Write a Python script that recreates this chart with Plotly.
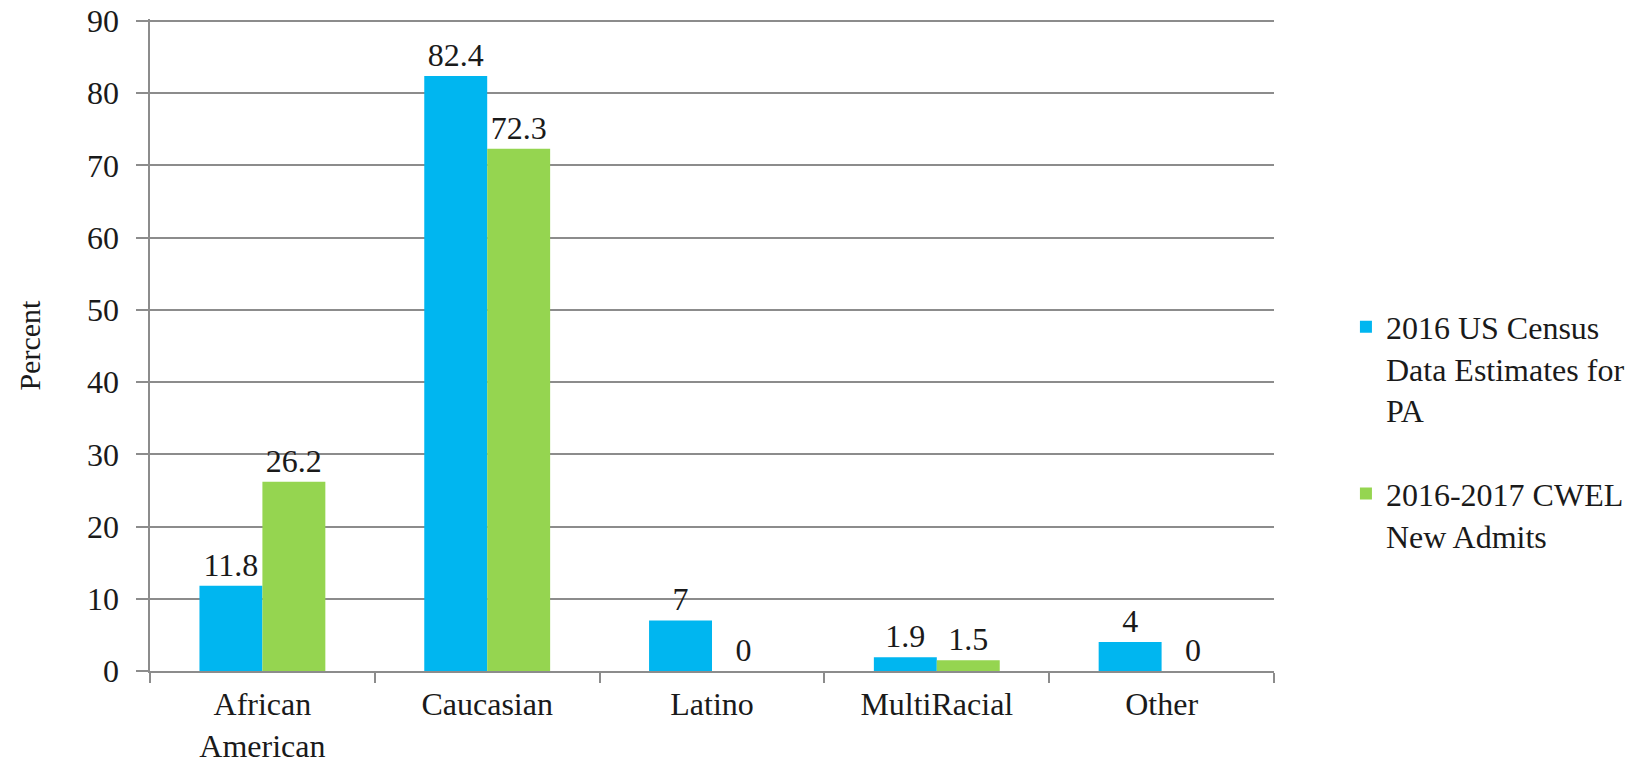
import plotly.graph_objects as go

categories = ["African<br>American", "Caucasian", "Latino", "MultiRacial", "Other"]
census_pa = [11.8, 82.4, 7, 1.9, 4]
cwel_admits = [26.2, 72.3, 0, 1.5, 0]
series_names = ["2016 US Census<br>Data Estimates for<br>PA", "2016-2017 CWEL<br>New Admits"]
y_ticks = [0, 10, 20, 30, 40, 50, 60, 70, 80, 90]
y_tick_labels = [str(v) + "\u2005\u200a" for v in y_ticks]

FONT = "Liberation Serif"
FS = 32
GRID = "#8C8C8C"
TXT = "#1a1a1a"

fig = go.Figure()
fig.add_trace(go.Bar(
    x=categories, y=census_pa, name=series_names[0], legendgroup="a",
    marker=dict(color="#00B6F0", line=dict(width=0)),
    text=[str(v) for v in census_pa], textposition="outside",
    textfont=dict(family=FONT, size=FS, color=TXT), cliponaxis=False,
))
fig.add_trace(go.Bar(
    x=categories, y=cwel_admits, name=series_names[1], legendgroup="b",
    marker=dict(color="#95D550", line=dict(width=0)),
    text=[str(v) for v in cwel_admits], textposition="outside",
    textfont=dict(family=FONT, size=FS, color=TXT), cliponaxis=False,
))

fig.update_layout(
    width=1642, height=764,
    margin=dict(l=150, r=363, t=19, b=93),
    paper_bgcolor="white", plot_bgcolor="white",
    barmode="group", bargap=0.44, bargroupgap=0,
    font=dict(family=FONT, size=FS, color=TXT),
    showlegend=True,
    legend=dict(
        x=1.064, xanchor="left", y=0.57, yanchor="top",
        font=dict(family=FONT, size=FS, color=TXT),
        traceorder="grouped", tracegroupgap=39, valign="top",
        itemwidth=30, bgcolor="rgba(0,0,0,0)",
    ),
    xaxis=dict(
        type="category", showgrid=False, showline=True, linecolor=GRID, linewidth=2,
        ticks="outside", tickson="boundaries", ticklen=10, tickcolor=GRID, tickwidth=2,
        ticklabelstandoff=4,
        tickfont=dict(family=FONT, size=FS, color=TXT), automargin=False,
    ),
    yaxis=dict(
        range=[0, 90.28], tickvals=y_ticks, ticktext=y_tick_labels,
        showgrid=True, gridcolor=GRID, gridwidth=2,
        showline=True, linecolor=GRID, linewidth=2, zeroline=False,
        ticks="outside", ticklen=12, tickcolor=GRID, tickwidth=2,
        tickfont=dict(family=FONT, size=FS, color=TXT), automargin=False,
    ),
    annotations=[dict(
        text="Percent", textangle=-90, xref="paper", yref="paper",
        x=-0.108, y=0.5, xanchor="center", yanchor="middle", showarrow=False,
        font=dict(family=FONT, size=FS - 2, color=TXT),
    )],
)

fig.write_html(
    "out.html",
    config={"displayModeBar": False},
    post_script="document.body.style.margin='0';document.body.style.overflow='hidden';",
)
